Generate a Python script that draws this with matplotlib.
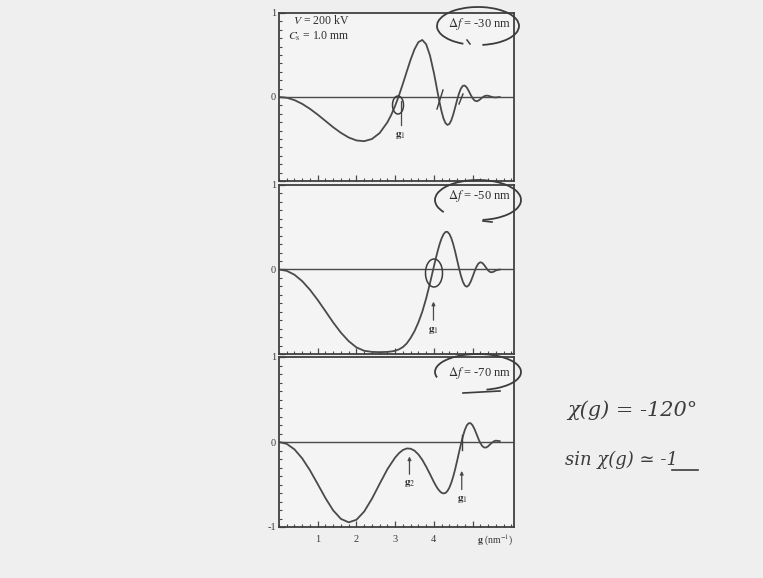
import matplotlib
matplotlib.use("Agg")
import matplotlib.pyplot as plt
from matplotlib.patches import Arc
from matplotlib.lines import Line2D
from matplotlib.ticker import MultipleLocator

# spatial frequency g (nm^-1), shared by the three curves
g = [0, 0.2, 0.4, 0.6, 0.8, 1.0, 1.2, 1.4, 1.6, 1.8, 2.0, 2.2, 2.4, 2.6, 2.8,
     2.9, 3.0, 3.1, 3.2, 3.3, 3.4, 3.5, 3.6, 3.7, 3.8, 3.9, 4.0,
     4.05, 4.1, 4.15, 4.2, 4.25, 4.3, 4.35, 4.4, 4.45, 4.5, 4.55, 4.6, 4.65,
     4.7, 4.75, 4.8, 4.85, 4.9, 4.95, 5.0, 5.05, 5.1, 5.15, 5.2, 5.25, 5.3,
     5.35, 5.4, 5.45, 5.5, 5.55, 5.6, 5.7]

# transfer function, df = -30 nm
ctf_30 = [0, -0.009, -0.037, -0.082, -0.141, -0.210, -0.285, -0.360, -0.427, -0.482,
          -0.517, -0.526, -0.500, -0.429, -0.301,
          -0.212, -0.105, 0.020, 0.158, 0.303, 0.445, 0.568, 0.653, 0.679, 0.629, 0.494, 0.289,
          0.170, 0.047, -0.070, -0.174, -0.257, -0.311, -0.332, -0.321, -0.278, -0.209,
          -0.124, -0.036, 0.043, 0.102, 0.134, 0.136, 0.113, 0.073, 0.027, -0.014,
          -0.041, -0.051, -0.043, -0.026, -0.006, 0.009, 0.016, 0.015, 0.008, 0.001,
          -0.004, -0.005, 0.0]

# df = -50 nm
ctf_50 = [0, -0.016, -0.062, -0.138, -0.240, -0.361, -0.493, -0.627, -0.748, -0.848,
          -0.922, -0.962, -0.975, -0.978, -0.975,
          -0.970, -0.962, -0.945, -0.918, -0.875, -0.810, -0.730, -0.627, -0.501, -0.345, -0.162, 0.034,
          0.131, 0.221, 0.302, 0.369, 0.417, 0.444, 0.446, 0.421, 0.372, 0.300,
          0.212, 0.113, 0.014, -0.075, -0.146, -0.190, -0.204, -0.188, -0.145, -0.087,
          -0.024, 0.032, 0.070, 0.086, 0.078, 0.053, 0.020, -0.010, -0.029, -0.033,
          -0.025, -0.011, 0.0]

# df = -70 nm
ctf_70 = [0, -0.022, -0.087, -0.193, -0.333, -0.495, -0.660, -0.805, -0.905, -0.945,
          -0.915, -0.818, -0.668, -0.492, -0.320,
          -0.251, -0.183, -0.131, -0.094, -0.076, -0.079, -0.102, -0.146, -0.209, -0.289, -0.378, -0.470,
          -0.512, -0.549, -0.577, -0.598, -0.605, -0.600, -0.577, -0.537, -0.480, -0.407,
          -0.320, -0.223, -0.122, -0.023, 0.068, 0.142, 0.195, 0.221, 0.221, 0.196,
          0.152, 0.096, 0.038, -0.012, -0.048, -0.065, -0.065, -0.051, -0.029, -0.008,
          0.008, 0.016, 0.01]

curves = [ctf_30, ctf_50, ctf_70]
defocus_labels = [r"$\Delta f$ = -30 nm", r"$\Delta f$ = -50 nm", r"$\Delta f$ = -70 nm"]
x_ticklabels = ["1", "2", "3", "4", ""]

plt.rcParams["font.family"] = ["Liberation Serif", "DejaVu Serif"]
plt.rcParams["mathtext.fontset"] = "stix"

W, H = 763, 578
bg = "#efefef"
ink = "#4a4a4a"
hand = "#3c3c3c"
txt = "#2e2e2e"

fig = plt.figure(figsize=(W / 100, H / 100), dpi=100, facecolor=bg)


def fx(x):
    return x / W


def fy(y):
    return 1 - y / H


def hand_arc(cx, cy, w, h, t1, t2, lw=1.3):
    fig.patches.append(Arc((fx(cx), fy(cy)), w / W, h / H, theta1=t1, theta2=t2,
                           transform=fig.transFigure, color=hand, lw=lw))


def hand_line(xs, ys, lw=1.2):
    fig.lines.append(Line2D([fx(v) for v in xs], [fy(v) for v in ys],
                            transform=fig.transFigure, color=hand, lw=lw))


# panel boxes in pixels: (top, bottom)
left, right = 279, 514
panels = [(13, 181), (185, 354), (357, 527)]

axes = []
for i, (top, bot) in enumerate(panels):
    ax = fig.add_axes([fx(left), fy(bot), (right - left) / W, (bot - top) / H])
    ax.set_facecolor("#f4f4f4")
    ax.plot(g, curves[i], color=ink, lw=1.3)
    ax.axhline(0, color=ink, lw=1.0)
    ax.set_xlim(0, 6.07)
    ax.set_ylim(-1, 1)
    ax.set_yticks([-1, 0, 1])
    ax.set_yticklabels(["-1" if i == 2 else "", "0", "1"])
    ax.yaxis.set_minor_locator(MultipleLocator(0.1))
    ax.set_xticks([1, 2, 3, 4, 5])
    ax.xaxis.set_minor_locator(MultipleLocator(0.2))
    if i == 2:
        ax.set_xticklabels(x_ticklabels)
    else:
        ax.set_xticklabels([])
    ax.tick_params(which="both", direction="in", color=ink, labelsize=7.5,
                   labelcolor="#3a3a3a", top=False, right=False)
    ax.tick_params(which="major", length=4, width=0.9)
    ax.tick_params(axis="y", which="major", pad=2)
    ax.tick_params(axis="x", which="major", pad=6)
    ax.tick_params(which="minor", length=2.5, width=0.8)
    for s in ax.spines.values():
        s.set_color("#404040")
        s.set_linewidth(1.3)
    ax.text(0.99, 0.935 if i < 2 else 0.905, defocus_labels[i], transform=ax.transAxes,
            ha="right", va="center", fontsize=9, color=txt)
    axes.append(ax)

ax1, ax2, ax3 = axes
ax1.text(0.06, 0.955, r"$V$ = 200 kV", transform=ax1.transAxes, fontsize=8.5,
         color=txt, va="center")
ax1.text(0.04, 0.86, r"$C_{\rm s}$ = 1.0 mm", transform=ax1.transAxes, fontsize=8.5,
         color=txt, va="center")
ax3.text(0.92, -0.08, r"$\mathbf{g}$ (nm$^{-1}$)", transform=ax3.transAxes,
         ha="center", va="center", fontsize=7, color="#3a3a3a")

# g1 / g2 markers
arrow = dict(arrowstyle="-|>", color=ink, lw=0.9, mutation_scale=5, shrinkA=0, shrinkB=0)
ax1.plot([3.16, 3.16], [-0.05, -0.33], color=ink, lw=0.9)
ax1.text(3.14, -0.46, r"$\mathbf{g}_1$", ha="center", va="center", fontsize=8, color=txt)
ax2.annotate("", xy=(3.99, -0.38), xytext=(3.99, -0.6), arrowprops=arrow)
ax2.text(3.99, -0.72, r"$\mathbf{g}_1$", ha="center", va="center", fontsize=8, color=txt)
ax3.annotate("", xy=(3.37, -0.17), xytext=(3.37, -0.38), arrowprops=arrow)
ax3.text(3.37, -0.49, r"$\mathbf{g}_2$", ha="center", va="center", fontsize=8, color=txt)
ax3.annotate("", xy=(4.72, -0.34), xytext=(4.72, -0.56), arrowprops=arrow)
ax3.text(4.73, -0.68, r"$\mathbf{g}_1$", ha="center", va="center", fontsize=8, color=txt)

# pen marks drawn over the slide
hand_arc(478, 26, 82, 38, -80, 238)
hand_line([467, 470], [40, 44], lw=1.1)
hand_arc(398, 105, 11, 18, 0, 360, lw=1.1)
hand_line([437, 443], [109, 90], lw=1.0)
hand_line([459, 463], [104, 94], lw=1.0)
hand_arc(478, 200, 86, 40, -80, 205)
hand_line([483, 492], [221, 222])
hand_arc(434, 273, 17, 28, 0, 360, lw=1.1)
hand_arc(478, 372, 86, 36, -70, 190)
hand_line([463, 500], [393, 391])
hand_line([462, 462], [435, 450], lw=1.0)

fig.text(fx(567), fy(410), "χ(g) = -120°", fontsize=15, style="italic",
         color=hand, va="center", family=["DejaVu Serif"])
fig.text(fx(565), fy(460), "sin χ(g) ≃ -1", fontsize=13, style="italic",
         color=hand, va="center", family=["DejaVu Serif"])
hand_line([672, 698], [470, 470], lw=1.2)

fig.savefig("out.png", dpi=100, facecolor=bg)
